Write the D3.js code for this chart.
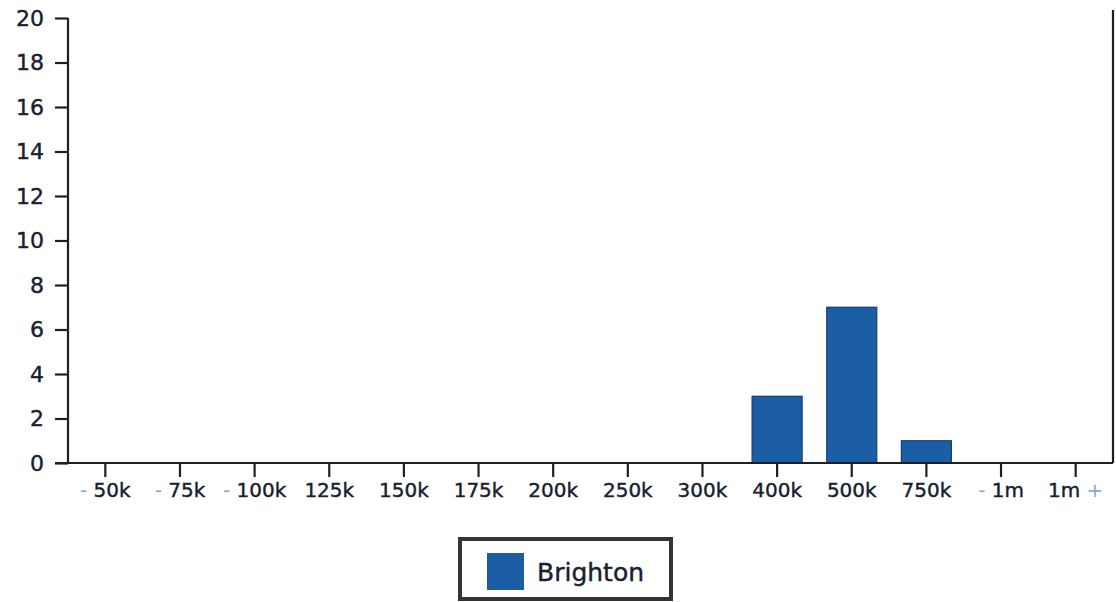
<!DOCTYPE html>
<html><head><meta charset="utf-8">
<script src="https://cdn.jsdelivr.net/npm/d3@7"></script>
<style>body{margin:0;background:#fff;} svg{display:block;}</style>
</head><body>
<svg id="c" width="1116" height="602"></svg>
<script>
const categories = ["- 50k","- 75k","- 100k","125k","150k","175k","200k","250k","300k","400k","500k","750k","- 1m","1m +"];
const values = [0,0,0,0,0,0,0,0,0,3,7,1,0,0];
const yTicks = [0,2,4,6,8,10,12,14,16,18,20];
const seriesName = "Brighton";

(function(){
const svg = d3.select("#c");
const mLeft = 68, mRight = 1113, mTop = 18, mBottom = 463;
const x = d3.scaleBand().domain(categories).range([mLeft, mRight]).paddingInner(0.33).paddingOuter(0.165);
const y = d3.scaleLinear().domain([0,20]).range([mBottom, mTop]);
const ink = "#1e1e24";
const txt = "#18202e";
const font = "DejaVu Sans, Verdana, sans-serif";

// bars
svg.append("g").selectAll("rect").data(values).join("rect")
  .attr("x", (d,i)=>x(categories[i]))
  .attr("y", d=>y(d))
  .attr("width", x.bandwidth())
  .attr("height", d=>mBottom - y(d))
  .attr("fill", "#1b5ea6")
  .attr("stroke", "#123f70").attr("stroke-width", 1.2);

// y axis
const yAxis = svg.append("g").attr("transform", `translate(${mLeft},0)`)
  .call(d3.axisLeft(y).tickValues(yTicks).tickSize(13).tickPadding(11));
yAxis.select(".domain").attr("stroke", ink).attr("stroke-width", 2.2).attr("d", `M0,${mTop}V${mBottom}`);
yAxis.selectAll(".tick line").attr("stroke", ink).attr("stroke-width", 2.2);
yAxis.selectAll(".tick text").attr("font-family", font).attr("font-size", 22).attr("fill", txt)
  .attr("stroke", txt).attr("stroke-width", 0.4);

// x axis
const xAxis = svg.append("g").attr("transform", `translate(0,${mBottom})`)
  .call(d3.axisBottom(x).tickSize(14).tickPadding(6));
xAxis.select(".domain").attr("stroke", ink).attr("stroke-width", 2.2).attr("d", `M55,0H${mRight}`);
xAxis.selectAll(".tick line").attr("stroke", ink).attr("stroke-width", 2.2);
xAxis.selectAll(".tick text").attr("font-family", font).attr("font-size", 20).attr("fill", txt)
  .each(function(d){
    const t = d3.select(this); t.text(null);
    const parts = d.split(/([-+])/);
    parts.forEach(p=>{ if(p==="") return;
      const isSym = (p==="-"||p==="+");
      t.append("tspan").text(p).attr("fill", isSym ? "#8fa6c4" : txt)
        .attr("stroke", isSym ? "none" : txt).attr("stroke-width", 0.4);
    });
  });

// right border line
svg.append("line").attr("x1", mRight).attr("x2", mRight).attr("y1", 10).attr("y2", mBottom)
  .attr("stroke", ink).attr("stroke-width", 2.2);

// legend
const lg = svg.append("g");
lg.append("rect").attr("x", 460).attr("y", 539).attr("width", 211).attr("height", 60)
  .attr("fill", "#fff").attr("stroke", "#333338").attr("stroke-width", 4);
lg.append("rect").attr("x", 487).attr("y", 553).attr("width", 37).attr("height", 37).attr("fill", "#1b5ea6");
lg.append("text").attr("x", 537).attr("y", 581).attr("font-family", font).attr("font-size", 25)
  .attr("fill", txt).attr("stroke", txt).attr("stroke-width", 0.4).text(seriesName);
})();
</script>
</body></html>
